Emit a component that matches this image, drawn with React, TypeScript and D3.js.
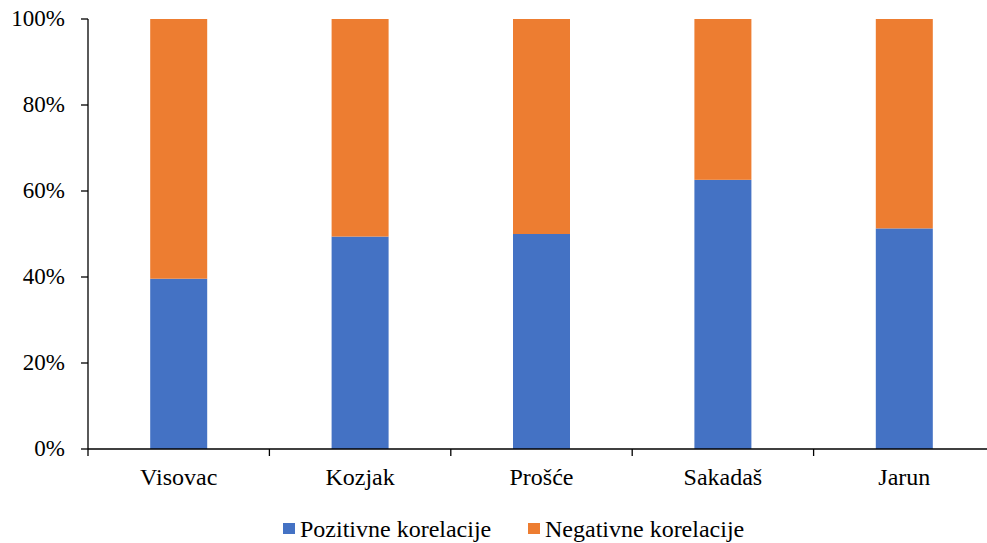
import React from "react";
import * as d3 from "d3";

const categories = ["Visovac", "Kozjak", "Prošće", "Sakadaš", "Jarun"];
const positive = [39.6, 49.4, 50.0, 62.6, 51.3];
const negative = [60.4, 50.6, 50.0, 37.4, 48.7];
const seriesNames = ["Pozitivne korelacije", "Negativne korelacije"];
const colors = ["#4472C4", "#ED7D31"];
const yTicks = [0, 20, 40, 60, 80, 100];

const W = 987, H = 543;
const left = 88, right = 995, top = 19, bottom = 449;

export default function App() {
  const x = d3.scaleBand<string>().domain(categories).range([left, right]).paddingInner(0).paddingOuter(0);
  const y = d3.scaleLinear().domain([0, 100]).range([bottom, top]);
  const barW = 57;
  const rows = categories.map((c, i) => ({ cat: c, pos: positive[i], neg: negative[i] }));
  const stack = d3.stack<any>().keys(["pos", "neg"])(rows);
  const ff = "'Liberation Serif', 'Times New Roman', Times, serif";
  const tickStyle = { fontFamily: ff, fontSize: "23px" };
  const textStyle = { fontFamily: ff, fontSize: "24px" };
  const boundaries = [...categories.map((c) => x(c)!), right];

  return (
    <svg width={W} height={H} style={{ position: "absolute", left: 0, top: 0, background: "#fff" }}>
      {stack.map((s, si) =>
        s.map((d, i) => {
          const cx = x(categories[i])! + x.bandwidth() / 2;
          return (
            <rect
              key={si + "-" + i}
              x={cx - barW / 2}
              y={y(d[1])}
              width={barW}
              height={y(d[0]) - y(d[1])}
              fill={colors[si]}
            />
          );
        })
      )}
      <line x1={left} x2={left} y1={top} y2={bottom} stroke="#000" strokeWidth={1.3} />
      {yTicks.map((t) => (
        <g key={t}>
          <line x1={left - 7} x2={left} y1={y(t)} y2={y(t)} stroke="#000" strokeWidth={1.3} />
          <text x={65} y={y(t) + 7} textAnchor="end" style={tickStyle} fill="#000">
            {t}%
          </text>
        </g>
      ))}
      <line x1={left} x2={right} y1={bottom} y2={bottom} stroke="#000" strokeWidth={1.3} />
      {boundaries.map((b, i) => (
        <line key={i} x1={b} x2={b} y1={bottom} y2={bottom + 7} stroke="#000" strokeWidth={1.3} />
      ))}
      {categories.map((c) => (
        <text key={c} x={x(c)! + x.bandwidth() / 2} y={485} textAnchor="middle" style={textStyle} fill="#000">
          {c}
        </text>
      ))}
      <rect x={283} y={523} width={12} height={11} fill={colors[0]} />
      <text x={300} y={537} style={textStyle} fill="#000">{seriesNames[0]}</text>
      <rect x={528} y={523} width={12} height={11} fill={colors[1]} />
      <text x={545} y={537} style={textStyle} fill="#000">{seriesNames[1]}</text>
    </svg>
  );
}
